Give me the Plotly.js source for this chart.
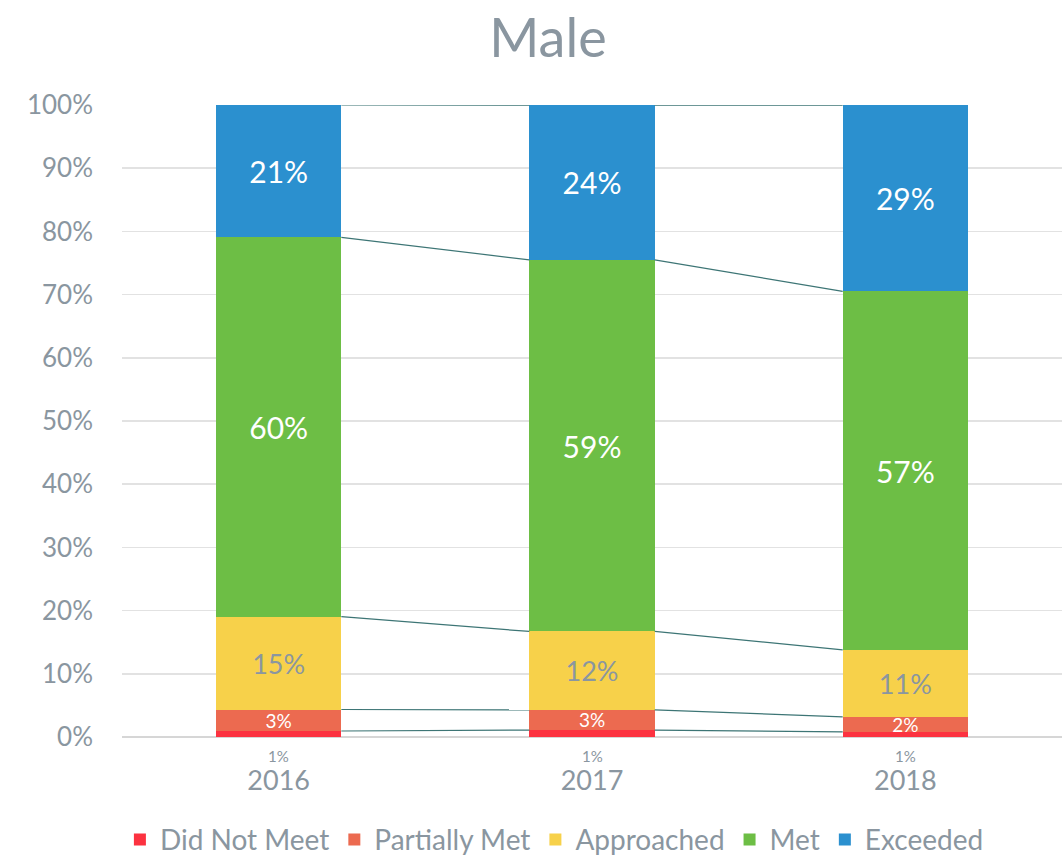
<!DOCTYPE html>
<html><head><meta charset="utf-8">
<script src="https://cdn.plot.ly/plotly-3.0.1.min.js"></script>
<style>body{margin:0;background:#fff}#c{width:1064px;height:856px}</style>
</head><body><div id="c"></div>
<script>
var years = ['2016', '2017', '2018'];
var didNotMeet = [0.95, 1.1, 0.8];
var partiallyMet = [3.4, 3.2, 2.4];
var approached = [14.7, 12.4, 10.6];
var met = [60.0, 58.8, 56.7];
var exceeded = [20.95, 24.49, 29.49];
var seriesNames = ['Did Not Meet', 'Partially Met', 'Approached', 'Met', 'Exceeded'];
var seriesColors = ['#fc3240', '#ec6a50', '#f7d14a', '#6dbe45', '#2b90cf'];
var yTicks = [0, 10, 20, 30, 40, 50, 60, 70, 80, 90, 100];

var series = [didNotMeet, partiallyMet, approached, met, exceeded];
var xIdx = years.map(function (_, i) { return i; });
var FONT = 'Lato, "Open Sans", sans-serif';
var GRAY = '#8a96a0';
var textFonts = [
  {size: 16, color: GRAY},
  {size: 19, color: '#ffffff'},
  {size: 27, color: GRAY},
  {size: 30, color: '#ffffff'},
  {size: 30, color: '#ffffff'}
];
var traces = [];
series.forEach(function (vals, s) {
  traces.push({
    type: 'bar', x: xIdx, y: vals, name: seriesNames[s],
    marker: {color: seriesColors[s]},
    width: 0.4,
    text: vals.map(function (v) { return Math.round(v) + '%'; }),
    textposition: s === 0 ? 'none' : 'inside',
    insidetextanchor: 'middle',
    constraintext: 'none',
    cliponaxis: false,
    textangle: 0,
    textfont: {family: FONT, size: textFonts[s].size, color: textFonts[s].color},
    hoverinfo: 'none'
  });
});
// series connector lines
var cum = years.map(function () { return 0; });
series.forEach(function (vals) {
  cum = cum.map(function (c, i) { return c + vals[i]; });
  for (var i = 0; i < years.length - 1; i++) {
    traces.push({
      type: 'scatter', mode: 'lines', showlegend: false, hoverinfo: 'none',
      x: [i + 0.2, i + 0.8], y: [cum[i], cum[i + 1]],
      line: {color: '#3d7575', width: 1.2}
    });
  }
});
var annotations = didNotMeet.map(function (v, i) {
  return {x: i, y: 0, xref: 'x', yref: 'y', text: Math.round(v) + '%', showarrow: false,
    yshift: -19, font: {family: FONT, size: 15, color: GRAY}};
});
var layout = {
  width: 1064, height: 856,
  margin: {l: 122, r: 2, t: 105, b: 119},
  paper_bgcolor: '#fff', plot_bgcolor: '#fff',
  barmode: 'stack',
  showlegend: true,
  title: {text: 'Male', x: 0.515, xanchor: 'center', y: 0.955, yanchor: 'middle',
    font: {family: FONT, size: 54, color: GRAY}},
  xaxis: {range: [-0.5, 2.5], tickvals: xIdx, ticktext: years, showgrid: false, zeroline: false,
    showline: false, ticks: '', ticklabelstandoff: 25, automargin: false,
    tickfont: {family: FONT, size: 27, color: GRAY}},
  yaxis: {range: [0, 100], tickvals: yTicks, ticktext: yTicks.map(function (t) { return t + '%'; }),
    showgrid: true, gridcolor: '#e2e2e2', gridwidth: 1.5, zeroline: true, zerolinecolor: '#d6d6d6', zerolinewidth: 2,
    showline: false, ticks: '', ticklabelstandoff: 28, automargin: false,
    tickfont: {family: FONT, size: 26, color: GRAY}},
  legend: {orientation: 'h', traceorder: 'normal', x: 0.46, xanchor: 'center',
    yref: 'container', y: 0.019, yanchor: 'middle',
    font: {family: FONT, size: 28, color: GRAY}, tracegroupgap: 0},
  annotations: annotations,
  font: {family: FONT}
};
Plotly.newPlot('c', traces, layout, {displayModeBar: false, staticPlot: true});
</script></body></html>
